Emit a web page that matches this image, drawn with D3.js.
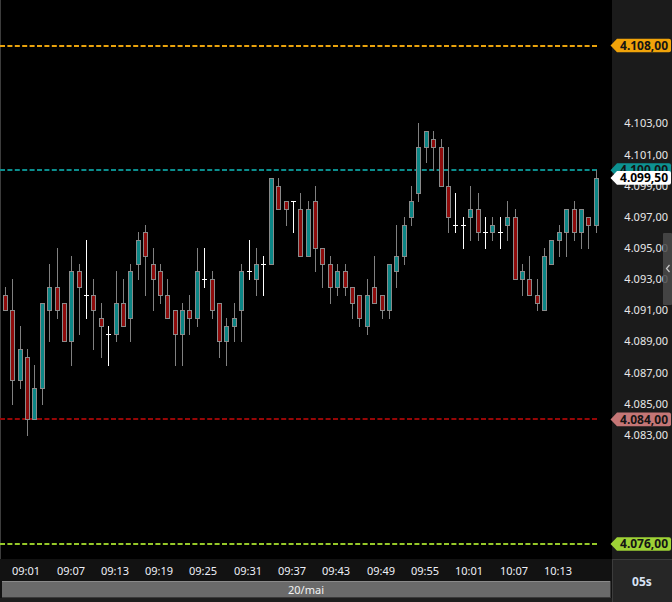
<!DOCTYPE html>
<html>
<head>
<meta charset="utf-8">
<script src="https://cdn.jsdelivr.net/npm/d3@7"></script>
<style>
html,body{margin:0;padding:0;background:#000;overflow:hidden;}
svg{display:block;}
</style>
</head>
<body>
<svg id="chart" width="672" height="602"></svg>
<script>
// ---------------- DATA ----------------
const openP  = [4092.0,4091.0,4086.5,4088.0,4084.0,4086.0,4091.0,4092.5,4091.5,4089.0,
                4093.5,4092.0,4092.0,4090.5,4089.5,4089.5,4091.5,4090.5,4094.0,4096.0,
                4094.0,4093.5,4092.0,4091.0,4089.5,4091.0,4090.5,4093.0,4093.0,4091.5,
                4089.0,4090.0,4091.0,4093.5,4093.0,4094.0,4094.0,4099.0,4098.0,4098.0,
                4097.5,4094.5,4098.0,4095.0,4094.0,4092.5,4093.5,4092.5,4092.0,4090.0,
                4092.5,4092.0,4091.0,4093.5,4094.5,4097.0,4098.5,4101.5,4102.0,4101.5,
                4099.0,4096.5,4096.5,4097.0,4097.5,4096.0,4096.0,4096.0,4096.5,4097.0,
                4093.0,4093.0,4092.0,4091.0,4094.0,4095.5,4096.0,4097.5,4096.0,4097.0,
                4096.5];
const highP  = [4092.5,4093.0,4090.0,4088.5,4087.5,4091.5,4094.0,4095.0,4091.5,4094.5,
                4094.0,4095.5,4093.0,4091.5,4090.0,4093.5,4093.0,4094.0,4096.0,4096.5,
                4095.0,4094.0,4093.0,4091.0,4091.5,4092.0,4095.0,4095.0,4093.5,4091.5,
                4090.5,4091.5,4094.0,4095.5,4095.0,4094.5,4099.5,4099.5,4098.0,4098.0,
                4098.5,4098.0,4099.0,4095.0,4094.5,4094.0,4094.0,4092.5,4092.0,4093.0,
                4094.5,4092.0,4094.0,4096.5,4097.0,4099.0,4103.0,4102.5,4102.5,4102.0,
                4101.5,4098.5,4097.0,4099.0,4098.5,4097.0,4097.0,4097.0,4098.0,4097.5,
                4094.0,4094.5,4093.0,4095.0,4095.5,4096.5,4097.5,4098.0,4097.5,4097.0,
                4100.0];
const lowP   = [4091.0,4085.0,4086.0,4083.0,4084.0,4085.0,4089.0,4090.5,4089.0,4087.5,
                4089.5,4090.5,4088.5,4088.0,4087.5,4089.0,4090.0,4089.0,4093.0,4092.0,
                4091.0,4091.5,4090.5,4087.5,4087.5,4089.5,4090.0,4092.5,4090.5,4088.0,
                4087.5,4089.0,4089.0,4093.0,4092.0,4092.0,4094.0,4097.5,4096.5,4096.0,
                4094.5,4094.5,4093.5,4092.5,4091.5,4092.0,4092.0,4090.5,4090.0,4089.5,
                4091.5,4090.5,4090.5,4092.5,4094.0,4096.5,4098.0,4100.5,4100.0,4099.0,
                4096.0,4096.0,4095.0,4095.5,4095.5,4095.0,4095.5,4095.0,4095.5,4093.0,
                4092.0,4092.0,4091.0,4091.0,4094.0,4094.5,4094.5,4095.5,4095.0,4095.0,
                4096.0];
const closeP = [4091.0,4086.5,4088.5,4084.0,4086.0,4091.5,4092.5,4091.0,4089.0,4093.5,
                4092.5,4092.0,4091.0,4090.0,4089.5,4091.5,4090.0,4093.5,4095.5,4094.5,
                4093.0,4092.0,4090.5,4089.5,4091.0,4090.5,4093.5,4093.0,4091.0,4089.0,
                4090.0,4090.5,4093.5,4093.5,4094.0,4094.0,4099.5,4097.5,4097.5,4098.0,
                4094.5,4097.5,4095.0,4094.0,4092.5,4093.5,4092.5,4091.5,4090.5,4092.0,
                4091.5,4091.0,4094.0,4094.5,4096.5,4098.0,4101.5,4102.5,4101.5,4099.0,
                4097.0,4096.5,4096.5,4097.5,4096.0,4096.0,4096.5,4096.0,4097.0,4093.0,
                4093.5,4092.0,4091.5,4094.5,4095.5,4096.0,4097.5,4096.0,4097.5,4096.5,
                4099.5];
const timeTicks  = ["09:01","09:07","09:13","09:19","09:25","09:31","09:37","09:43","09:49","09:55","10:01","10:07","10:13"];
const priceTicks = [4083,4085,4087,4089,4091,4093,4095,4097,4099,4101,4103];
const levelValues = [4108, 4100, 4084, 4076];
const levelNames  = ["orange","teal","red","green"];
const currentPrice = 4099.5;
const dateLabel = "20/mai";
const periodLabel = "05s";

// minute categories 09:00 .. 10:20
const t0 = new Date(2024, 4, 20, 9, 0);
const fmtTime = d3.timeFormat("%H:%M");
const times = openP.map((_, i) => fmtTime(d3.timeMinute.offset(t0, i)));

// ---------------- LAYOUT ----------------
const W = 672, H = 602;
const plotRight = 612, plotBottom = 559;
const svg = d3.select("#chart");

const x = d3.scaleLinear().domain([0, times.length - 1]).range([5.3, 596.3]);
const y = d3.scaleLinear().domain([4076, 4108]).range([544, 45.5]);
const cx = i => Math.floor(x(i)) + 0.5;
const cy = v => Math.round(y(v)) + 0.5;

const loc = d3.formatLocale({decimal: ",", thousands: ".", grouping: [3], currency: ["R$", ""]});
const fmtPrice = loc.format(",.2f");

const FONT = "'Noto Sans', 'Open Sans', sans-serif";

// backgrounds
svg.append("rect").attr("x",0).attr("y",0).attr("width",W).attr("height",H).attr("fill","#000");
svg.append("rect").attr("x",plotRight).attr("y",0).attr("width",W-plotRight).attr("height",plotBottom).attr("fill","#1b1b1b");
svg.append("rect").attr("x",0).attr("y",plotBottom).attr("width",plotRight).attr("height",H-plotBottom).attr("fill","#121212");
svg.append("line").attr("x1",0.5).attr("x2",0.5).attr("y1",0).attr("y2",plotBottom).attr("stroke","#3c3c3c");

// level lines
const levelColors = {orange:"#e9a20c", teal:"#0b8d8d", red:"#960606", green:"#95c829"};
const levelFill   = {orange:"#f0a30a", teal:"#0d9292", red:"#c47676", green:"#9ed236"};
const gLines = svg.append("g");
levelValues.forEach((v, k) => {
  gLines.append("line")
    .attr("x1", 0).attr("x2", 597)
    .attr("y1", Math.round(y(v))).attr("y2", Math.round(y(v)))
    .attr("stroke", levelColors[levelNames[k]])
    .attr("stroke-width", 2)
    .attr("stroke-dasharray", "5,2.4");
});

// candles
const gC = svg.append("g");
times.forEach((t, i) => {
  const o = openP[i], h = highP[i], l = lowP[i], c = closeP[i];
  const xc = cx(i);
  if (o === c) {
    gC.append("line").attr("x1",xc).attr("x2",xc).attr("y1",Math.round(y(h))).attr("y2",Math.round(y(l))+1)
      .attr("stroke","#ffffff").attr("stroke-width",1);
    gC.append("line").attr("x1",xc-2.5).attr("x2",xc+2.5).attr("y1",cy(o)).attr("y2",cy(o))
      .attr("stroke","#ffffff").attr("stroke-width",1);
    return;
  }
  gC.append("line").attr("x1",xc).attr("x2",xc).attr("y1",Math.round(y(h))).attr("y2",Math.round(y(l))+1)
    .attr("stroke","#808080").attr("stroke-width",1);
  const top = cy(Math.max(o,c)), bot = cy(Math.min(o,c));
  gC.append("rect")
    .attr("x", xc - 2).attr("width", 4)
    .attr("y", top).attr("height", Math.max(1, bot - top))
    .attr("fill", c > o ? "#0b8585" : "#8e0b0b")
    .attr("stroke", "#8a8a8a").attr("stroke-width", 1);
});

// price tick labels
const gT = svg.append("g").attr("font-family", FONT).attr("font-size", 11).attr("fill", "#e8e8e8");
priceTicks.forEach(v => {
  gT.append("text").attr("x", 668).attr("y", y(v) + 4).attr("text-anchor","end").text(fmtPrice(v));
});

// scroll handle
const gS = svg.append("g");
gS.append("rect").attr("x",663).attr("y",233).attr("width",9).attr("height",72).attr("rx",1)
  .attr("fill","#4a4a4a").attr("fill-opacity",0.85);
gS.append("path").attr("d","M669.5,265 L666.5,268.5 L669.5,272").attr("fill","none").attr("stroke","#c8c8c8").attr("stroke-width",1.2);

// price label boxes
function priceTag(v, fill, textColor) {
  const yc = y(v);
  const hh = 6.8;
  const g = svg.append("g");
  g.append("path")
    .attr("d", `M610.5,${yc} L617,${yc-hh} L669,${yc-hh} Q671,${yc-hh} 671,${yc-hh+2} L671,${yc+hh-2} Q671,${yc+hh} 669,${yc+hh} L617,${yc+hh} Z`)
    .attr("fill", fill);
  g.append("text").attr("x", 668).attr("y", yc + 4.3).attr("text-anchor","end")
    .attr("font-family", FONT).attr("font-size", 12).attr("font-weight","bold")
    .attr("fill", textColor).text(fmtPrice(v));
}
levelValues.forEach((v, k) => priceTag(v, levelFill[levelNames[k]], "#141414"));
priceTag(currentPrice, "#ffffff", "#000000");

// time axis labels
const gX = svg.append("g").attr("font-family", FONT).attr("font-size", 11).attr("fill", "#eef0f8");
timeTicks.forEach(t => {
  const i = times.indexOf(t);
  gX.append("text").attr("x", cx(i) - 0.5).attr("y", 574.5).attr("text-anchor","start").text(t);
});

// date bar
svg.append("rect").attr("x",2).attr("y",581).attr("width",609).attr("height",17).attr("fill","#6a6a6a");
svg.append("line").attr("x1",2).attr("x2",611).attr("y1",581.5).attr("y2",581.5).attr("stroke","#8a8a8a");
svg.append("line").attr("x1",2).attr("x2",611).attr("y1",597.5).attr("y2",597.5).attr("stroke","#3a3a3a");
svg.append("line").attr("x1",610.5).attr("x2",610.5).attr("y1",581).attr("y2",598).attr("stroke","#3a3a3a");
svg.append("rect").attr("x",0).attr("y",598).attr("width",plotRight).attr("height",4).attr("fill","#1e1e1e");
svg.append("text").attr("x",306).attr("y",594).attr("text-anchor","middle")
  .attr("font-family",FONT).attr("font-size",11).attr("fill","#f2f2f2").text(dateLabel);

// period box
svg.append("rect").attr("x",plotRight).attr("y",plotBottom).attr("width",W-plotRight).attr("height",H-plotBottom).attr("fill","#262626");
svg.append("line").attr("x1",plotRight+0.5).attr("x2",plotRight+0.5).attr("y1",plotBottom).attr("y2",H).attr("stroke","#3c3c3c");
svg.append("line").attr("x1",plotRight).attr("x2",W).attr("y1",plotBottom+0.5).attr("y2",plotBottom+0.5).attr("stroke","#3c3c3c");
svg.append("text").attr("x",642).attr("y",586).attr("text-anchor","middle")
  .attr("font-family",FONT).attr("font-size",12).attr("font-weight","bold").attr("fill","#d8e2f4").text(periodLabel);
</script>
</body>
</html>
